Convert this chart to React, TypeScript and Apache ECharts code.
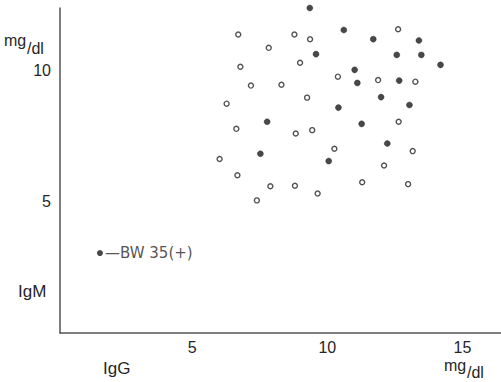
import React, { useEffect, useRef } from "react";
import * as echarts from "echarts";

// IgG (x, mg/dl) vs IgM (y, mg/dl)
const openX = [6.70, 8.78, 9.36, 7.83, 8.99, 6.78, 10.39, 7.17, 8.30, 9.25, 6.27, 12.62, 11.88, 13.26, 6.63, 8.83, 9.44, 10.26, 6.01, 6.67, 7.89, 8.80, 9.64, 7.39, 12.64, 13.16, 12.10, 11.29, 12.99];
const openY = [11.39, 11.39, 11.21, 10.88, 10.31, 10.16, 9.78, 9.44, 9.47, 8.98, 8.75, 11.59, 9.65, 9.59, 7.79, 7.61, 7.74, 7.03, 6.64, 6.02, 5.60, 5.62, 5.32, 5.06, 8.06, 6.94, 6.39, 5.75, 5.68];
const filledX = [9.35, 10.61, 9.58, 11.01, 11.11, 10.41, 11.70, 13.39, 12.57, 13.48, 14.19, 12.66, 11.99, 13.04, 7.77, 7.52, 10.05, 11.27, 12.22];
const filledY = [12.40, 11.56, 10.64, 10.04, 9.54, 8.60, 11.21, 11.16, 10.61, 10.61, 10.23, 9.63, 9.00, 8.70, 8.06, 6.84, 6.56, 7.98, 7.23];
const bw35 = [1.58, 3.05];
const bw35Label = "—BW 35(+)";
const xTicks = [5, 10, 15];
const yTicks = [5, 10];

const FONT = "'Liberation Sans', Arial, sans-serif";
const WIDE = "'DejaVu Sans', sans-serif";
const INK = "#262626";

export default function App() {
  const ref = useRef<HTMLDivElement>(null);
  useEffect(() => {
    if (!ref.current) return;
    const chart = echarts.init(ref.current, undefined, { renderer: "svg" });
    const zip = (xs: number[], ys: number[]) => xs.map((x, i) => [x, ys[i]]);
    chart.setOption({
      animation: false,
      backgroundColor: "#ffffff",
      grid: { left: 60, right: 0, top: 8, bottom: 49, containLabel: false },
      xAxis: {
        type: "value",
        min: 0.1,
        max: 16.43,
        axisLine: { show: true, lineStyle: { color: "#555", width: 1.5 } },
        axisTick: { show: false },
        splitLine: { show: false },
        axisLabel: {
          customValues: xTicks,
          color: INK,
          fontSize: 16,
          fontFamily: FONT,
          margin: 6,
        },
      },
      yAxis: {
        type: "value",
        min: 0,
        max: 12.4,
        axisLine: { show: true, lineStyle: { color: "#555", width: 1.5 } },
        axisTick: { show: false },
        splitLine: { show: false },
        axisLabel: {
          customValues: yTicks,
          color: INK,
          fontSize: 16,
          fontFamily: FONT,
          margin: 9,
        },
      },
      series: [
        {
          type: "scatter",
          data: zip(openX, openY),
          symbol: "circle",
          symbolSize: 5,
          clip: false,
          itemStyle: { color: "#ffffff", borderColor: INK, borderWidth: 1.4 },
        },
        {
          type: "scatter",
          data: zip(filledX, filledY),
          symbol: "circle",
          symbolSize: 6,
          clip: false,
          itemStyle: { color: "#1a1a1a", borderColor: "#1a1a1a", borderWidth: 0.5 },
        },
        {
          type: "scatter",
          data: [bw35],
          symbol: "circle",
          symbolSize: 6,
          clip: false,
          itemStyle: { color: "#1a1a1a" },
          label: {
            show: true,
            position: "right",
            distance: 2,
            formatter: bw35Label,
            color: INK,
            fontSize: 15,
            fontFamily: WIDE,
          },
        },
      ],
      graphic: [
        { type: "text", left: 4, top: 32, style: { text: "mg", fontSize: 16, fontFamily: FONT, fill: INK } },
        { type: "text", left: 27, top: 40, style: { text: "/dl", fontSize: 16, fontFamily: FONT, fill: INK } },
        { type: "text", left: 18, top: 283, style: { text: "IgM", fontSize: 17, fontFamily: FONT, fill: INK } },
        { type: "text", left: 103, top: 360, style: { text: "IgG", fontSize: 17, fontFamily: FONT, fill: INK } },
        { type: "text", left: 444, top: 357, style: { text: "mg", fontSize: 16, fontFamily: FONT, fill: INK } },
        { type: "text", left: 467, top: 364, style: { text: "/dl", fontSize: 16, fontFamily: FONT, fill: INK } },
      ],
    });
    return () => chart.dispose();
  }, []);
  return <div ref={ref} style={{ width: 501, height: 382, position: "absolute", left: 0, top: 0 }} />;
}
